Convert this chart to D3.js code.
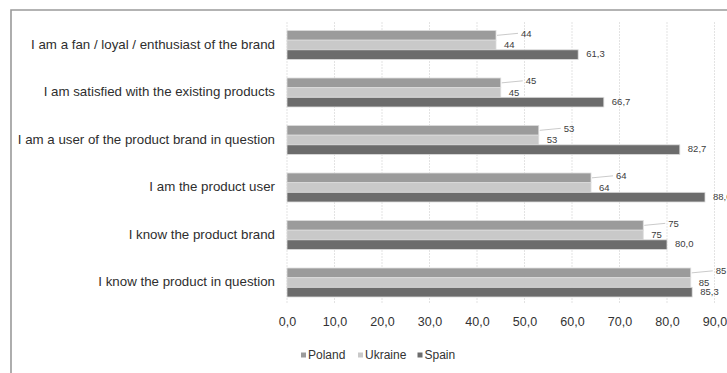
<!DOCTYPE html>
<html>
<head>
<meta charset="utf-8">
<script src="https://cdn.jsdelivr.net/npm/d3@7"></script>
<style>
  html, body { margin: 0; padding: 0; background: #fff; }
  svg { display: block; }
  text { font-family: "Liberation Sans", Arial, Helvetica, sans-serif; }
</style>
</head>
<body>
<svg id="chart" width="727" height="373"></svg>
<script>
// Survey statements, top to bottom
const categories = [
  "I am a fan / loyal / enthusiast of the brand",
  "I am satisfied with the existing products",
  "I am a user of the product brand in question",
  "I am the product user",
  "I know the product brand",
  "I know the product in question"
];
const seriesNames = ["Poland", "Ukraine", "Spain"];
const poland  = [44, 45, 53, 64, 75, 85];
const ukraine = [44, 45, 53, 64, 75, 85];
const spain   = [61.3, 66.7, 82.7, 88.0, 80.0, 85.3];
const xTicks  = [0, 10, 20, 30, 40, 50, 60, 70, 80, 90];

const colors = { Poland: "#9b9b9b", Ukraine: "#c9c9c9", Spain: "#6c6c6c" };
const seriesValues = { Poland: poland, Ukraine: ukraine, Spain: spain };

const locale = d3.formatLocale({ decimal: ",", thousands: " ", grouping: [3], currency: ["", ""] });
const fmt1 = locale.format(".1f");
const fmtInt = locale.format("d");

const svg = d3.select("#chart");
const W = 727, H = 373;

// frame (top and left edges visible)
svg.append("path")
  .attr("d", `M11,${H} L11,10 L${W},10`)
  .attr("fill", "none")
  .attr("stroke", "#9a9a9a")
  .attr("stroke-width", 1.6);

const x = d3.scaleLinear().domain([0, 90]).range([287, 714.5]);
const y = d3.scaleBand().domain(categories).range([22, 305.5])
  .paddingInner(0.39).paddingOuter(0.179);
const ys = d3.scaleBand().domain(seriesNames).range([0, y.bandwidth()]);

// vertical gridlines
svg.append("g").selectAll("line")
  .data(xTicks)
  .join("line")
  .attr("x1", d => x(d)).attr("x2", d => x(d))
  .attr("y1", 22).attr("y2", 304)
  .attr("stroke", "#e3e3e3")
  .attr("stroke-width", 1)
  .attr("stroke-dasharray", "2,1");

// bars
const rows = [];
categories.forEach((c, i) => {
  seriesNames.forEach(s => rows.push({ cat: c, series: s, value: seriesValues[s][i] }));
});

const bars = svg.append("g");
bars.selectAll("rect")
  .data(rows)
  .join("rect")
  .attr("x", x(0))
  .attr("y", d => y(d.cat) + ys(d.series))
  .attr("width", d => x(d.value) - x(0))
  .attr("height", ys.bandwidth())
  .attr("fill", d => colors[d.series])
  .attr("stroke", "#dcdcdc")
  .attr("stroke-width", 0.8);

// value labels
const lab = svg.append("g").attr("font-size", 9.5).attr("fill", "#3c3c3c");
rows.forEach(d => {
  const xe = x(d.value);
  const yc = y(d.cat) + ys(d.series) + ys.bandwidth() / 2;
  if (d.series === "Poland") {
    lab.append("line")
      .attr("x1", xe + 1).attr("y1", yc)
      .attr("x2", xe + 22).attr("y2", yc - 2)
      .attr("stroke", "#bdbdbd").attr("stroke-width", 0.8);
    lab.append("text")
      .attr("x", xe + 25).attr("y", yc - 1)
      .attr("dominant-baseline", "middle")
      .text(fmtInt(d.value));
  } else if (d.series === "Ukraine") {
    lab.append("text")
      .attr("x", xe + 8).attr("y", yc + 0.5)
      .attr("dominant-baseline", "middle")
      .text(fmtInt(d.value));
  } else {
    lab.append("text")
      .attr("x", xe + 8).attr("y", yc)
      .attr("dominant-baseline", "middle")
      .text(fmt1(d.value));
  }
});

// category labels
svg.append("g").selectAll("text")
  .data(categories)
  .join("text")
  .attr("x", 275)
  .attr("y", d => y(d) + y.bandwidth() / 2)
  .attr("text-anchor", "end")
  .attr("dominant-baseline", "middle")
  .attr("font-size", 13.3)
  .attr("fill", "#2e2e2e")
  .text(d => d);

// x axis labels
const axis = d3.axisBottom(x).tickValues(xTicks).tickFormat(fmt1).tickSize(0).tickPadding(0);
const ag = svg.append("g").attr("transform", "translate(0,317)").call(axis);
ag.select(".domain").remove();
ag.selectAll("text")
  .attr("font-size", 12.5)
  .attr("fill", "#333")
  .attr("font-family", "\"Liberation Sans\", Arial, sans-serif");

// legend
const legendX = { Poland: 301, Ukraine: 358, Spain: 417.5 };
const lg = svg.append("g");
seriesNames.forEach(s => {
  lg.append("rect")
    .attr("x", legendX[s]).attr("y", 352.5)
    .attr("width", 5).attr("height", 5)
    .attr("fill", colors[s]);
  lg.append("text")
    .attr("x", legendX[s] + 7).attr("y", 355.5)
    .attr("dominant-baseline", "middle")
    .attr("font-size", 12)
    .attr("fill", "#333")
    .text(s);
});
</script>
</body>
</html>
